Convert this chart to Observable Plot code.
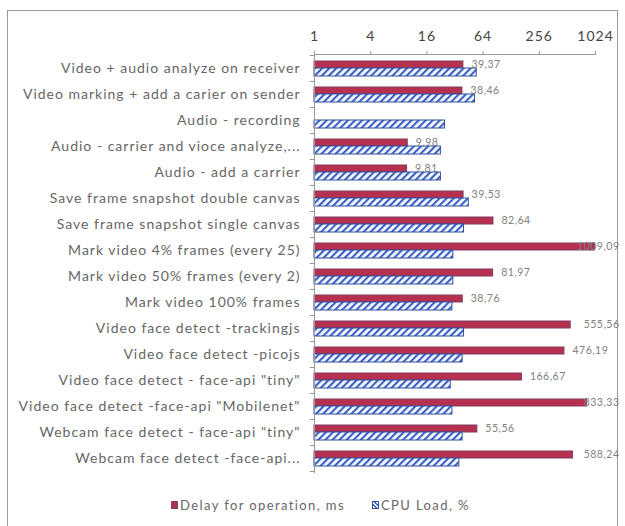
<!DOCTYPE html>
<html>
<head>
<meta charset="utf-8">
<script src="https://cdn.jsdelivr.net/npm/d3@7"></script>
<script src="https://cdn.jsdelivr.net/npm/@observablehq/plot@0.6"></script>
<style>
  html, body { margin: 0; padding: 0; background: #fff; }
  #wrap { position: relative; width: 625px; height: 526px; overflow: hidden; font-family: Lato, "Open Sans", sans-serif; }
  #border { position: absolute; left: 7px; top: 10px; width: 611px; height: 530px; border: 1px solid #9a9a9a; box-sizing: border-box; }
  #chart { position: absolute; left: 0; top: 0; }
  #legend { position: absolute; top: 497px; left: 0; width: 625px; font-size: 13px; letter-spacing: 1.4px; color: #666; }
  .item { position: absolute; display: flex; align-items: center; white-space: nowrap; }
  .sw { width: 7px; height: 8px; margin-right: 2px; box-sizing: border-box; }
  #chart svg g[aria-label="y-axis tick label"] text { letter-spacing: 1px; }
  #chart svg g[aria-label="x-axis tick label"] text { letter-spacing: 1px; }
  #chart svg g[aria-label="text"] text { letter-spacing: 0.5px; }
</style>
</head>
<body>
<div id="wrap">
  <div id="border"></div>
  <div id="chart"></div>
  <div id="legend">
    <div class="item" style="left:171px"><div class="sw" style="background:#b03050;border:1px solid #7d3f62"></div>Delay for operation, ms</div>
    <div class="item" style="left:372px"><div class="sw" style="border:1px solid #2e4f9e;background:repeating-linear-gradient(45deg,#fff 0 1.5px,#3a62c8 1.5px 3px)"></div>CPU Load, %</div>
  </div>
</div>
<script>
const categories = [
  "Video + audio analyze on receiver",
  "Video marking + add a carier on sender",
  "Audio - recording",
  "Audio - carrier and vioce analyze,...",
  "Audio - add a carrier",
  "Save frame snapshot double canvas",
  "Save frame snapshot single canvas",
  "Mark video 4% frames (every 25)",
  "Mark video 50% frames (every 2)",
  "Mark video 100% frames",
  "Video face detect -trackingjs",
  "Video face detect -picojs",
  "Video face detect - face-api \"tiny\"",
  "Video face detect -face-api \"Mobilenet\"",
  "Webcam face detect - face-api \"tiny\"",
  "Webcam face detect -face-api..."
];
const delay = [39.37, 38.46, null, 9.98, 9.81, 39.53, 82.64, 1009.09, 81.97, 38.76, 555.56, 476.19, 166.67, 833.33, 55.56, 588.24];
const cpu = [54.7, 52.5, 25, 22.6, 22.6, 45, 40, 30.7, 30.7, 30, 40, 38.6, 28.8, 30, 38.6, 35.6];
const xTicks = [1, 4, 16, 64, 256, 1024];

const rows = categories.map((c, i) => ({cat: c, delay: delay[i], cpu: cpu[i]}));
const delayRows = rows.filter(d => d.delay != null);
const fmt = v => v.toFixed(2).replace(".", ",");

const chart = Plot.plot({
  width: 625,
  height: 480,
  marginLeft: 314,
  marginRight: 30,
  marginTop: 54,
  marginBottom: 8,
  style: {fontFamily: "Lato, 'Open Sans', sans-serif", fontSize: "13px", color: "#666", background: "transparent", overflow: "visible"},
  x: {type: "log", base: 2, domain: [1, 1024]},
  y: {domain: categories, padding: 0},
  marks: [
    Plot.axisX({anchor: "top", ticks: xTicks, tickFormat: d => String(d), tickSize: 4, tickPadding: 10, stroke: "#999", fill: "#444", fontSize: 14, label: null}),
    Plot.axisY({anchor: "left", tickSize: 0, tickPadding: 14, label: null, fill: "#666", fontSize: 14}),
    Plot.ruleY(categories, {y: d => d, x1: 2 ** -0.15, x2: 1, dy: -13, stroke: "#999"}),
    Plot.ruleY(categories.slice(-1), {y: d => d, x1: 2 ** -0.15, x2: 1, dy: 13, stroke: "#999"}),
    Plot.barX(delayRows, {y: "cat", x1: 1, x2: "delay", insetTop: 6, insetBottom: 13, fill: "#b83050", stroke: "#7d3f62", strokeWidth: 1}),
    Plot.barX(rows, {y: "cat", x1: 1, x2: "cpu", insetTop: 13, insetBottom: 5, fill: "url(#hatch)", stroke: "#2e4f9e", strokeWidth: 1}),
    Plot.text(delayRows.filter(d => d.delay < 500), {y: "cat", x: "delay", text: d => fmt(d.delay), textAnchor: "start", dx: 8, dy: -4, fill: "#808080", fontSize: 10.5}),
    Plot.text(delayRows.filter(d => d.delay >= 500), {y: "cat", frameAnchor: "right", text: d => fmt(d.delay), textAnchor: "end", dx: 24, dy: -4, fill: "#808080", fontSize: 10.5}),
    Plot.frame({anchor: "top", stroke: "#999"}),
    Plot.frame({anchor: "left", stroke: "#999"})
  ]
});

const ns = "http://www.w3.org/2000/svg";
const defs = document.createElementNS(ns, "defs");
defs.innerHTML = `<pattern id="hatch" patternUnits="userSpaceOnUse" width="5" height="5" patternTransform="rotate(45)">
  <rect width="5" height="5" fill="#ffffff"/>
  <rect width="2.2" height="5" fill="#3a62c8"/>
</pattern>`;
chart.insertBefore(defs, chart.firstChild);
document.getElementById("chart").appendChild(chart);
</script>
</body>
</html>
